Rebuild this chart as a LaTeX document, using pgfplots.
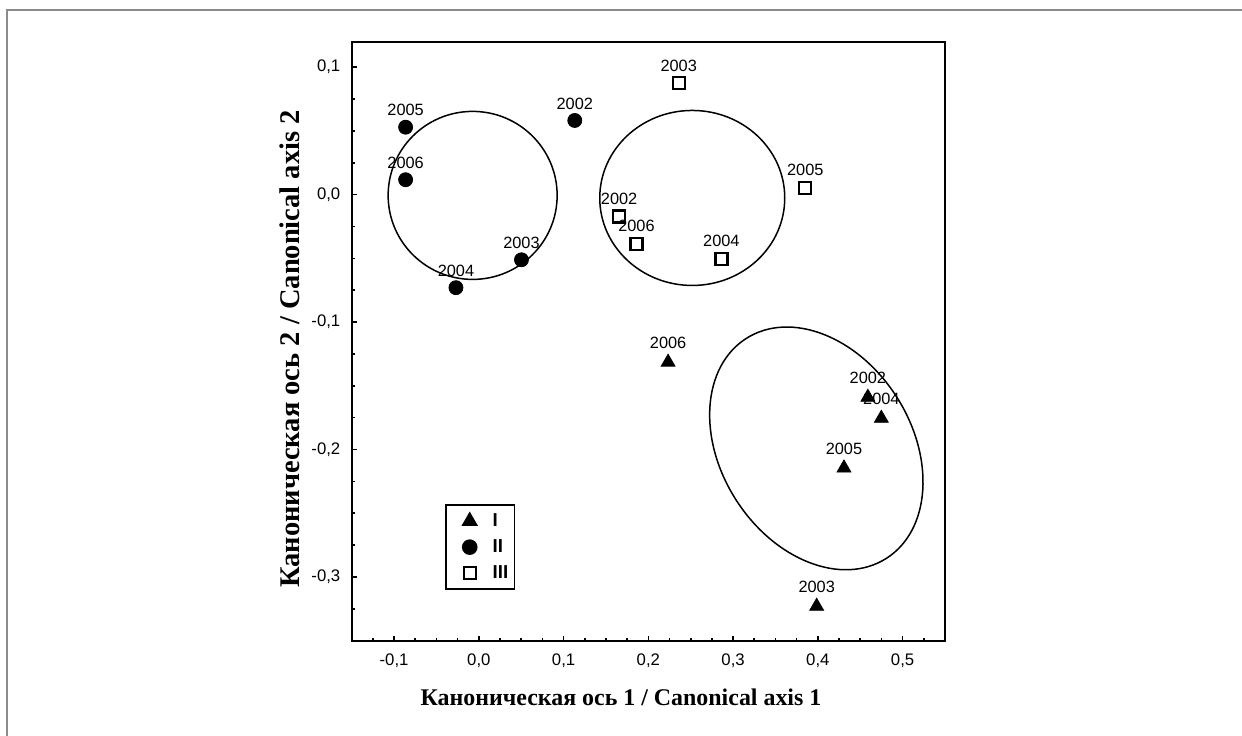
\documentclass[border=0pt]{standalone}
\usepackage{fontspec}
\setmainfont{Liberation Serif}
\newfontfamily\arial{Liberation Sans}
\usepackage{pgfplots}
\pgfplotsset{compat=1.18}
\definecolor{framegray}{RGB}{140,140,140}
\newcommand\ticksf{\arial\fontsize{8.4}{10}\selectfont}
\newcommand\labsf{\arial\fontsize{8.2}{9.8}\selectfont}
\newcommand\legsf{\arial\bfseries\fontsize{9.4}{11}\selectfont}

\begin{document}
\begin{tikzpicture}
\begin{axis}[
    at={(0,0)}, anchor=south west,
    scale only axis,
    width=296.65bp, height=299.5bp,
    xmin=-0.15, xmax=0.55,
    ymin=-0.35, ymax=0.12,
    axis line style={line width=1bp},
    tick style={line width=0.8bp, black},
    tick align=inside, tick pos=left,
    major tick length=2.5bp, minor tick length=1.5bp,
    xtick={-0.1,0,0.1,0.2,0.3,0.4,0.5},
    xticklabels={{-0,1},{0,0},{0,1},{0,2},{0,3},{0,4},{0,5}},
    ytick={-0.3,-0.2,-0.1,0,0.1},
    yticklabels={{-0,3},{-0,2},{-0,1},{0,0},{0,1}},
    minor xtick={-0.125,-0.075,-0.05,-0.025,0.025,0.05,0.075,0.125,0.15,0.175,0.225,0.25,0.275,0.325,0.35,0.375,0.425,0.45,0.475,0.525},
    minor ytick={-0.325,-0.275,-0.25,-0.225,-0.175,-0.15,-0.125,-0.075,-0.05,-0.025,0.025,0.05,0.075},
    xticklabel style={font=\ticksf, inner sep=0pt, anchor=north, yshift=-6.6bp},
    yticklabel style={font=\ticksf, inner sep=0pt, anchor=east, xshift=-5.5bp},
    xlabel={Каноническая ось 1 / Canonical axis 1},
    ylabel={Каноническая ось 2 / Canonical axis 2},
    xlabel style={font=\bfseries\fontsize{12}{14}\selectfont, at={(axis description cs:0.454,-0.094)}, anchor=center},
    ylabel style={font=\bfseries\fontsize{14.3}{16}\selectfont, at={(axis description cs:-0.104,0.487)}, anchor=center},
    legend style={at={(axis cs:-0.04,-0.243)}, anchor=north west, draw=black, line width=0.8bp,
        inner xsep=3bp, inner ysep=4bp, row sep=5bp, column sep=7.5bp, font=\legsf, nodes={inner sep=0pt}},
    legend cell align=left,
    legend image code/.code={\path[draw=none, fill=none] (-9bp,-4bp) (4bp,4bp);
        \draw[mark repeat=2,mark phase=2,#1] plot coordinates {(-4bp,0bp)(0bp,0bp)(4bp,0bp)};},
]

% confidence ellipses
\draw[line width=0.75bp] (axis cs:-0.0073,-0.0006) ellipse [x radius=42.25bp, y radius=42bp];
\draw[line width=0.75bp] (axis cs:0.2518,-0.0026) ellipse [x radius=46.25bp, y radius=43.75bp];
\draw[line width=0.75bp, rotate around={-57.5:(axis cs:0.3982,-0.1991)}]
    (axis cs:0.3982,-0.1991) ellipse [x radius=65.2bp, y radius=47.7bp];

% group I
\addplot[only marks, mark=triangle*, mark size=4bp, black, point meta=explicit symbolic,
    nodes near coords, every node near coord/.append style={font=\labsf, inner sep=0pt, anchor=south, yshift=6.4bp}]
coordinates {
    (0.459,-0.159) [2002]
    (0.3986,-0.323) [2003]
    (0.4749,-0.1755) [2004]
    (0.4308,-0.2145) [2005]
    (0.2233,-0.1315) [2006]
};
% group II
\addplot[only marks, mark=*, mark size=3.5bp, black, point meta=explicit symbolic,
    nodes near coords, every node near coord/.append style={font=\labsf, inner sep=0pt, anchor=south, yshift=5.4bp}]
coordinates {
    (0.1132,0.0582) [2002]
    (0.0503,-0.0511) [2003]
    (-0.027,-0.073) [2004]
    (-0.0864,0.0529) [2005]
    (-0.0864,0.0117) [2006]
};
% group III
\addplot[only marks, mark=square*, mark size=3bp, draw=black, fill=white,
    mark options={line width=1.1bp, draw=black, fill=white}, point meta=explicit symbolic,
    legend image post style={line width=1.1bp, mark options={line width=1.1bp}},
    nodes near coords, every node near coord/.append style={font=\labsf, inner sep=0pt, anchor=south, yshift=5.4bp, text=black}]
coordinates {
    (0.1655,-0.0171) [2002]
    (0.2358,0.0875) [2003]
    (0.2862,-0.0503) [2004]
    (0.3852,0.0054) [2005]
    (0.186,-0.0385) [2006]
};
\legend{I,II,III}
\end{axis}
\pgfresetboundingbox
\path[use as bounding box] (-175.85bp,-47.65bp) rectangle (445.15bp,320.35bp);
\draw[framegray, line width=1.1bp] (-172.2bp,-60bp) -- (-172.2bp,315.35bp) -- (460bp,315.35bp);
\end{tikzpicture}
\end{document}
